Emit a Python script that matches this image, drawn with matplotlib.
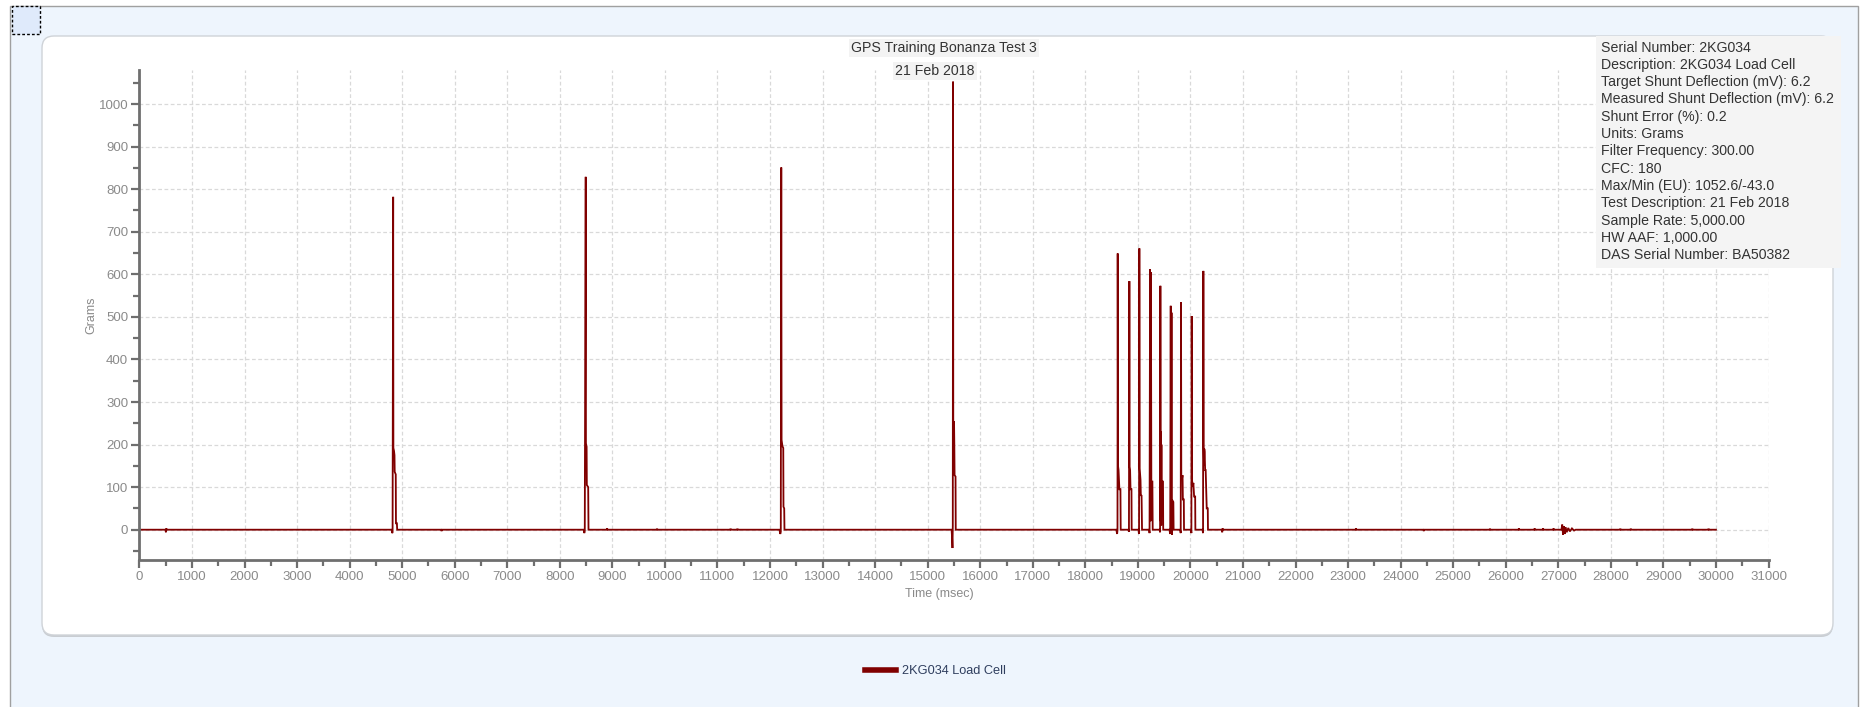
import matplotlib
matplotlib.use("Agg")
import matplotlib.pyplot as plt
import matplotlib.patches as mpatches
import matplotlib.transforms as mtransforms
from matplotlib.ticker import MultipleLocator
import numpy as np

W, H = 1868, 707

# ---- trace vertices (time in msec, load in grams) ----
start_t, start_g = [0], [0]
blip_t = [495, 505, 512, 520]
blip_g = [0, -6, 3, 0]

impact1_t = [4800, 4810, 4818, 4829, 4833, 4845, 4854, 4858, 4878, 4882, 4900, 4905]
impact1_g = [0, -8, -6, 782, 192, 185, 175, 136, 130, 15, 15, 0]

quiet1_t = [5740, 5750, 5760]
quiet1_g = [0, -3, 0]

impact2_t = [8455, 8466, 8475, 8493, 8497, 8510, 8514, 8540, 8546, 8560]
impact2_g = [0, -8, -3, 829, 203, 195, 105, 100, 0, 0]

quiet2_t = [8890, 8900, 8910, 9840, 9850, 9860, 11240, 11250, 11260, 11370, 11380, 11390]
quiet2_g = [0, 3, 0, 0, 2, 0, 0, 2, 0, 0, 2, 0]

impact3_t = [12180, 12195, 12205, 12214, 12220, 12232, 12240, 12252, 12256, 12270, 12275, 12290]
impact3_g = [0, -10, -5, 851, 211, 200, 195, 192, 54, 50, 0, 0]

impact4_t = [15455, 15465, 15472, 15478, 15483, 15487, 15491, 15495, 15499,
             15503, 15507, 15512, 15530, 15534, 15545]
impact4_g = [0, -20, -43, 10, 1052.6, 262, 150, 255, 140, 240, 200, 128, 125, 0, 0]

burst1_t = [18590, 18605, 18612, 18616, 18622, 18632, 18640, 18648, 18668, 18673, 18690]
burst1_g = [0, -10, 0, 649, 150, 140, 120, 95, 95, 0, 0]
burst2_t = [18820, 18830, 18838, 18843, 18852, 18860, 18878, 18882, 18900]
burst2_g = [0, -5, 584, 148, 140, 95, 95, 0, 0]
burst3_t = [19010, 19022, 19028, 19034, 19042, 19050, 19056, 19070, 19079, 19095]
burst3_g = [0, -10, 661, 144, 130, 117, 81, 80, 0, 0]
burst4_t = [19215, 19222, 19232, 19240, 19248, 19256, 19276, 19282, 19295]
burst4_g = [0, -8, 612, 20, 605, 113, 113, 0, 0]
burst5_t = [19415, 19422, 19428, 19432, 19436, 19440, 19444, 19448, 19452, 19458, 19478, 19482, 19495]
burst5_g = [0, -6, 573, 242, 20, 230, 10, 200, 30, 113, 113, 0, 0]
burst6_t = [19600, 19615, 19625, 19632, 19640, 19648, 19652, 19675, 19680, 19695]
burst6_g = [0, -10, 526, 30, 510, -12, 70, 65, 0, 0]
burst7_t = [19805, 19815, 19821, 19826, 19840, 19850, 19856, 19874, 19878, 19895]
burst7_g = [0, -8, 534, 128, 120, 128, 71, 71, 0, 0]
burst8_t = [20010, 20018, 20024, 20032, 20045, 20056, 20070, 20090, 20094, 20110]
burst8_g = [0, -8, 502, 115, 101, 110, 78, 78, 0, 0]
burst9_t = [20230, 20240, 20246, 20252, 20258, 20264, 20270, 20280, 20290, 20310, 20330, 20334, 20350]
burst9_g = [0, -8, 608, 194, 150, 190, 183, 140, 140, 50, 50, 0, 0]

tail_t = [20595, 20605, 20612, 20620, 23140, 23150, 23160, 24430, 24440, 24450,
          25690, 25700, 25710, 26240, 26250, 26260, 26540, 26550, 26560,
          26700, 26710, 26720, 26900, 26910, 26920]
tail_g = [0, -6, 3, 0, 0, 3, 0, 0, -3, 0,
          0, 2, 0, 0, 3, 0, 0, 3, 0,
          0, 3, 0, 0, 3, 0]

shake_t = [27060, 27075, 27090, 27105, 27120, 27140, 27160, 27190, 27220, 27260, 27300, 27330]
shake_g = [0, 12, -12, 8, -10, 6, -6, 4, -4, 3, -2, 0]

end_t = [28170, 28180, 28190, 28370, 28380, 28390, 29540, 29550, 29560,
         29850, 29860, 29870, 30000]
end_g = [0, 2, 0, 0, 2, 0, 0, 2, 0,
         0, 2, 0, 0]

series_name = "2KG034 Load Cell"
title_line1 = "GPS Training Bonanza Test 3"
title_line2 = "21 Feb 2018"
info_lines = [
    "Serial Number: 2KG034",
    "Description: 2KG034 Load Cell",
    "Target Shunt Deflection (mV): 6.2",
    "Measured Shunt Deflection (mV): 6.2",
    "Shunt Error (%): 0.2",
    "Units: Grams",
    "Filter Frequency: 300.00",
    "CFC: 180",
    "Max/Min (EU): 1052.6/-43.0",
    "Test Description: 21 Feb 2018",
    "Sample Rate: 5,000.00",
    "HW AAF: 1,000.00",
    "DAS Serial Number: BA50382",
]

pieces = [
    (start_t, start_g), (blip_t, blip_g), (impact1_t, impact1_g), (quiet1_t, quiet1_g),
    (impact2_t, impact2_g), (quiet2_t, quiet2_g), (impact3_t, impact3_g), (impact4_t, impact4_g),
    (burst1_t, burst1_g), (burst2_t, burst2_g), (burst3_t, burst3_g), (burst4_t, burst4_g),
    (burst5_t, burst5_g), (burst6_t, burst6_g), (burst7_t, burst7_g), (burst8_t, burst8_g),
    (burst9_t, burst9_g), (tail_t, tail_g), (shake_t, shake_g), (end_t, end_g),
]
time_ms = np.concatenate([np.asarray(t, float) for t, _ in pieces])
grams = np.concatenate([np.asarray(g, float) for _, g in pieces])

plt.rcParams["font.family"] = ["Liberation Sans", "DejaVu Sans"]

fig = plt.figure(figsize=(W / 100, H / 100), dpi=100, facecolor="white")
px = mtransforms.IdentityTransform()


def fx(x):
    return x / W


def fy(y):
    return 1 - y / H


# page background and panel
fig.add_artist(mpatches.Rectangle((10, -5), 1848, H - 6 + 5, transform=px,
                                  facecolor="#eef5fd", edgecolor="#a0a0a0", lw=1, zorder=-20))
fig.add_artist(mpatches.Rectangle((12, H - 34), 28, 28, transform=px,
                                  facecolor="#dfeafb", edgecolor="black", lw=1,
                                  linestyle=(0, (2, 1.5)), zorder=-19))
fig.add_artist(mpatches.FancyBboxPatch((42, H - 637), 1791, 599, transform=px,
                                       boxstyle="round,pad=0,rounding_size=12",
                                       facecolor="#c9cdd2", edgecolor="none", zorder=-18))
fig.add_artist(mpatches.FancyBboxPatch((42, H - 635), 1791, 599, transform=px,
                                       boxstyle="round,pad=0,rounding_size=12",
                                       facecolor="white", edgecolor="#cfd3d8", lw=1, zorder=-17))

ax = fig.add_axes([139.4 / W, 1 - 559.5 / H, 1629.1 / W, 489.5 / H])
ax.set_facecolor("none")
line, = ax.plot(time_ms, grams, color="#800000", lw=1.3, solid_joinstyle="miter")

ax.set_xlim(0, 31000)
ax.set_ylim(-70, 1080)
ax.xaxis.set_major_locator(MultipleLocator(1000))
ax.xaxis.set_minor_locator(MultipleLocator(500))
ax.yaxis.set_major_locator(MultipleLocator(100))
ax.yaxis.set_minor_locator(MultipleLocator(50))
ax.grid(True, which="major", color="#d9d9d9", lw=0.9, linestyle=(0, (3, 2)))
ax.set_axisbelow(True)

for side in ["top", "right"]:
    ax.spines[side].set_visible(False)
for side in ["left", "bottom"]:
    ax.spines[side].set_color("#6f6f6f")
    ax.spines[side].set_linewidth(2)

ax.tick_params(which="major", length=6, width=1.6, color="#6f6f6f",
               labelsize=9.5, labelcolor="#8a8a8a", pad=2)
ax.tick_params(which="minor", length=4, width=1.6, color="#6f6f6f")

ax.set_xlabel("Time (msec)", fontsize=9, color="#8a8a8a")
ax.set_ylabel("Grams", fontsize=9, color="#8a8a8a")
ax.xaxis.set_label_coords(0.491, -0.058)
ax.yaxis.set_label_coords(-0.026, 0.5)

# title
for txt, (x, y) in [(title_line1, (944, 48)), (title_line2, (935, 71))]:
    fig.text(fx(x), fy(y), txt, ha="center", va="center", fontsize=10.2, color="#333333",
             bbox=dict(facecolor="#f3f3f3", edgecolor="none", pad=1.5), zorder=6)

# info box
fig.add_artist(mpatches.Rectangle((1596, H - 268), 245, 232, transform=px,
                                  facecolor="#f4f4f4", edgecolor="none", zorder=5))
for i, txt in enumerate(info_lines):
    fig.text(fx(1601), fy(47.6 + i * 17.3), txt, ha="left", va="center",
             fontsize=10.2, color="#333333", zorder=6)

leg = fig.legend([line], [series_name], loc="center", bbox_to_anchor=(fx(935), fy(671)),
                 frameon=False, fontsize=9.2, handlelength=2.5, handletextpad=0.4,
                 labelcolor="#2f3e5e")
leg.legend_handles[0].set_linewidth(4)

fig.savefig("out.png", dpi=100)
